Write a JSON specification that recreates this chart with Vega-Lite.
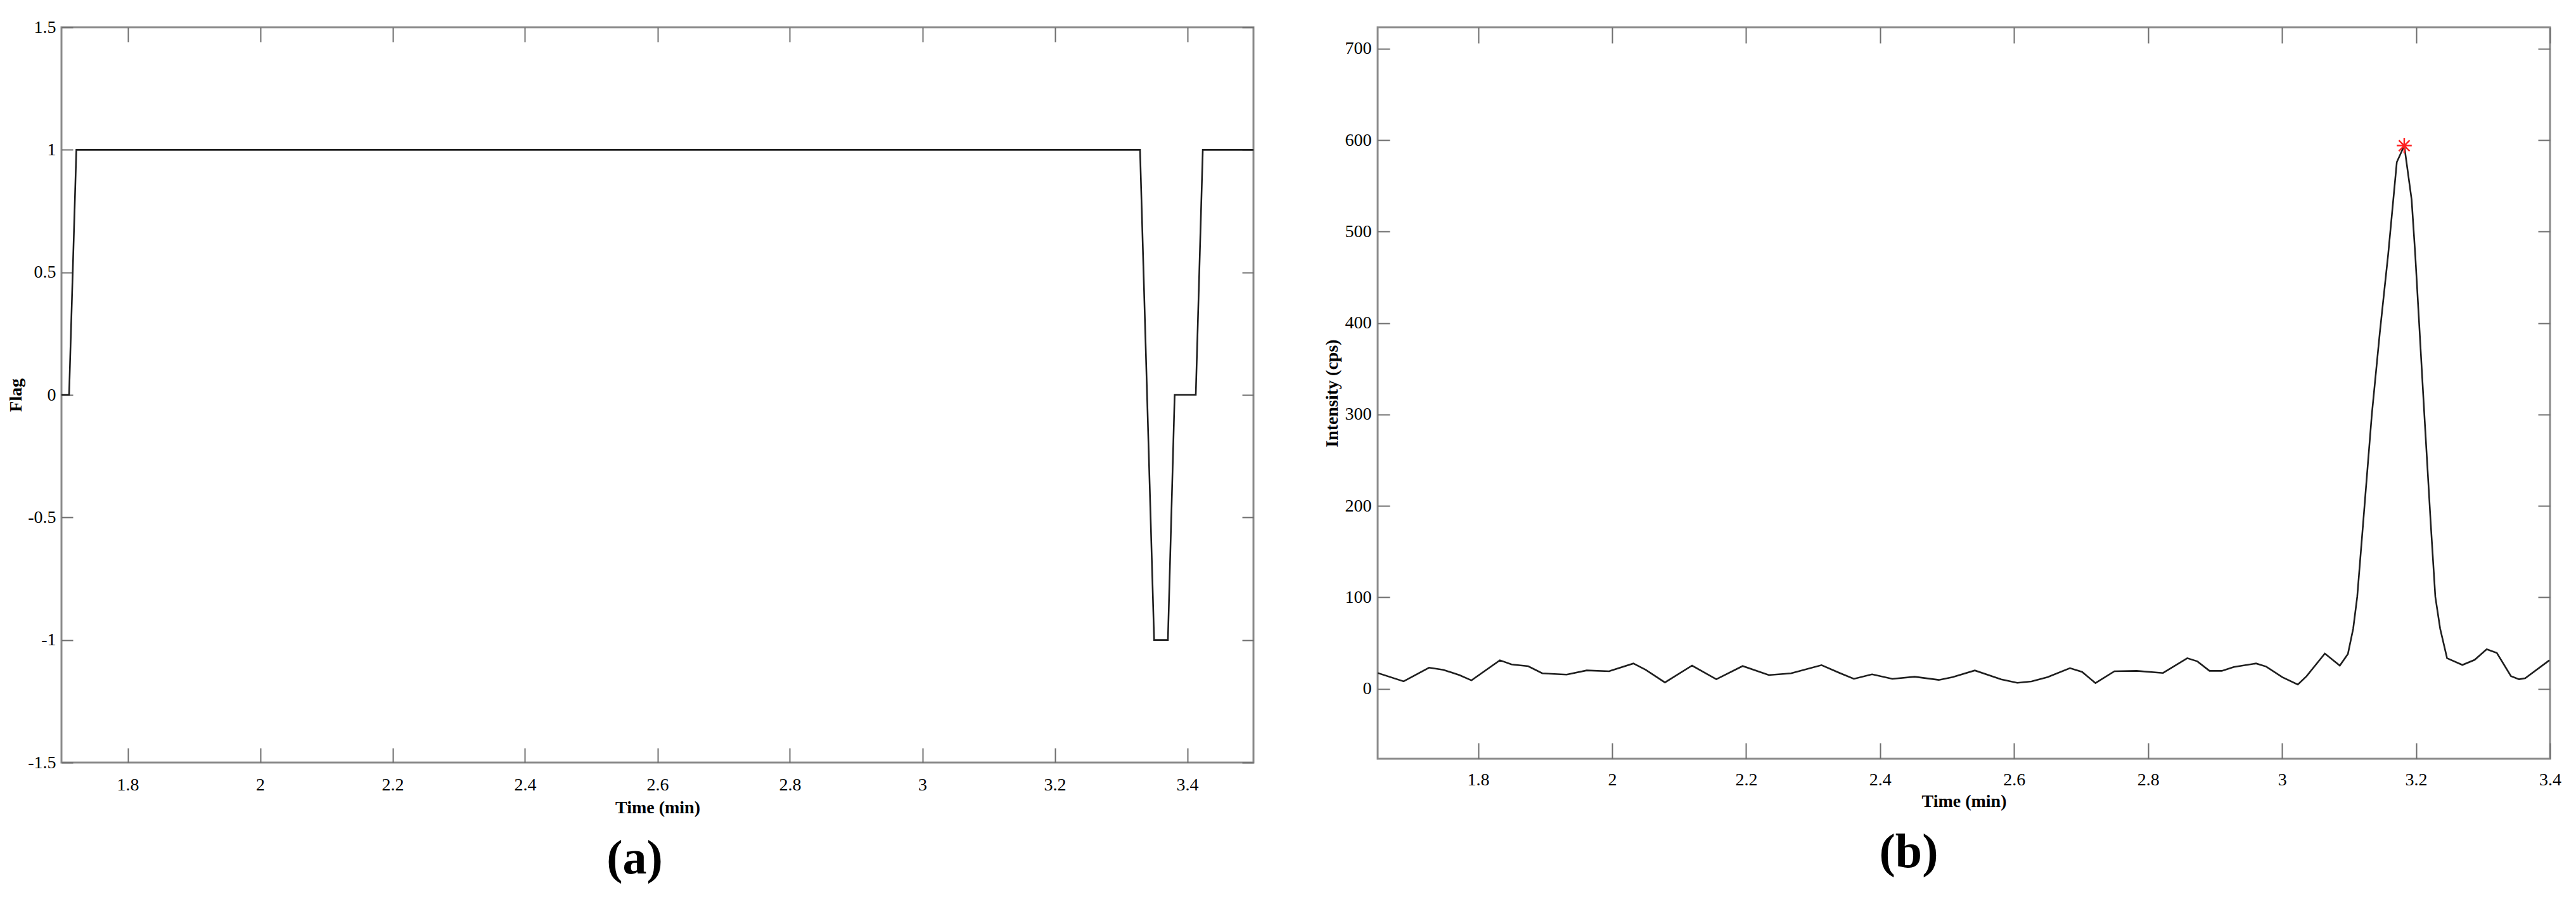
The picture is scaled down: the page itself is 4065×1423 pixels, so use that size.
{
  "$schema": "https://vega.github.io/schema/vega-lite/v6.json",
  "background": "white",
  "padding": {"left": 10, "top": 27, "right": 10, "bottom": 10},
  "spacing": 196,
  "bounds": "flush",
  "config": {
    "view": {"stroke": "#8a8a8a", "strokeWidth": 3},
    "axis": {
      "domain": false,
      "grid": false,
      "tickColor": "#6e6e6e",
      "tickWidth": 2,
      "labelFont": "Liberation Serif",
      "labelFontSize": 28,
      "labelColor": "#000000",
      "labelFlush": false,
      "labelOverlap": false,
      "titleFont": "Liberation Serif",
      "titleFontSize": 28,
      "titleFontWeight": "bold",
      "titleColor": "#000000"
    }
  },
  "datasets": {
    "flag": [
      {"t": 1.7, "flag": 0},
      {"t": 1.7115, "flag": 0},
      {"t": 1.7225, "flag": 1},
      {"t": 3.3287, "flag": 1},
      {"t": 3.35, "flag": -1},
      {"t": 3.3708, "flag": -1},
      {"t": 3.381, "flag": 0},
      {"t": 3.4129, "flag": 0},
      {"t": 3.4235, "flag": 1},
      {"t": 3.5, "flag": 1}
    ],
    "intensity": [
      {"t": 1.65, "i": 17.3},
      {"t": 1.6887, "i": 8.1},
      {"t": 1.7267, "i": 23.1},
      {"t": 1.748, "i": 20.8},
      {"t": 1.772, "i": 15.0},
      {"t": 1.79, "i": 9.2},
      {"t": 1.8324, "i": 31.2},
      {"t": 1.85, "i": 26.6},
      {"t": 1.8747, "i": 24.7},
      {"t": 1.8958, "i": 16.9},
      {"t": 1.932, "i": 15.5},
      {"t": 1.962, "i": 20.1},
      {"t": 1.9955, "i": 19.2},
      {"t": 2.0317, "i": 27.7},
      {"t": 2.05, "i": 20.8},
      {"t": 2.0788, "i": 6.9},
      {"t": 2.1193, "i": 25.4},
      {"t": 2.1555, "i": 10.4},
      {"t": 2.1948, "i": 24.9},
      {"t": 2.234, "i": 15.0},
      {"t": 2.267, "i": 16.9},
      {"t": 2.3126, "i": 25.9},
      {"t": 2.3397, "i": 17.3},
      {"t": 2.3609, "i": 10.9},
      {"t": 2.388, "i": 15.9},
      {"t": 2.4183, "i": 10.9},
      {"t": 2.4515, "i": 13.2},
      {"t": 2.4877, "i": 9.7},
      {"t": 2.5082, "i": 12.7},
      {"t": 2.5414, "i": 20.1},
      {"t": 2.5807, "i": 10.4},
      {"t": 2.6048, "i": 6.5},
      {"t": 2.626, "i": 8.1},
      {"t": 2.65, "i": 12.7},
      {"t": 2.6834, "i": 22.6},
      {"t": 2.7015, "i": 18.5},
      {"t": 2.7215, "i": 6.2},
      {"t": 2.7498, "i": 19.2},
      {"t": 2.783, "i": 19.6},
      {"t": 2.8223, "i": 17.3},
      {"t": 2.8585, "i": 33.5},
      {"t": 2.8736, "i": 30.0},
      {"t": 2.8917, "i": 19.6},
      {"t": 2.91, "i": 19.6},
      {"t": 2.928, "i": 23.8},
      {"t": 2.9612, "i": 27.7},
      {"t": 2.9763, "i": 24.3},
      {"t": 3.0005, "i": 12.7},
      {"t": 3.0235, "i": 4.6},
      {"t": 3.0367, "i": 13.9},
      {"t": 3.0639, "i": 38.6},
      {"t": 3.0862, "i": 25.4},
      {"t": 3.0983, "i": 38.1},
      {"t": 3.1062, "i": 65.8},
      {"t": 3.1122, "i": 100.5},
      {"t": 3.122, "i": 190},
      {"t": 3.134, "i": 300},
      {"t": 3.146, "i": 390},
      {"t": 3.1584, "i": 475},
      {"t": 3.1713, "i": 576},
      {"t": 3.1824, "i": 594},
      {"t": 3.1934, "i": 535},
      {"t": 3.1988, "i": 475},
      {"t": 3.212, "i": 305},
      {"t": 3.222, "i": 180},
      {"t": 3.2288, "i": 100.5},
      {"t": 3.236, "i": 65.8},
      {"t": 3.2463, "i": 33.5},
      {"t": 3.2692, "i": 26.1},
      {"t": 3.2874, "i": 31.6},
      {"t": 3.3055, "i": 43.2},
      {"t": 3.3206, "i": 39.3},
      {"t": 3.3417, "i": 13.9},
      {"t": 3.3538, "i": 10.4},
      {"t": 3.3629, "i": 11.5},
      {"t": 3.3991, "i": 31.2}
    ],
    "peak": [
      {"t": 3.1824, "i": 594}
    ]
  },
  "hconcat": [
    {
      "width": 1881,
      "height": 1160,
      "title": {"text": "(a)", "orient": "bottom", "anchor": "middle", "frame": "group", "font": "Liberation Serif", "fontSize": 76, "fontWeight": "bold", "color": "#000000", "dx": -36, "offset": 30},
      "data": {"name": "flag"},
      "layer": [
        {
          "mark": {"type": "line", "color": "#1e1e1e", "strokeWidth": 2.6, "clip": true},
          "encoding": {
            "x": {"field": "t", "type": "quantitative", "scale": {"domain": [1.7, 3.5], "nice": false, "zero": false},
                  "axis": {"title": "Time (min)", "values": [1.8, 2, 2.2, 2.4, 2.6, 2.8, 3, 3.2, 3.4], "tickSize": -23, "labelPadding": 44, "labelExpr": "'' + datum.value", "titlePadding": 8}},
            "y": {"field": "flag", "type": "quantitative", "scale": {"domain": [-1.5, 1.5], "nice": false, "zero": false},
                  "axis": {"title": "Flag", "values": [-1.5, -1, -0.5, 0, 0.5, 1, 1.5], "tickSize": -18, "labelPadding": 27, "labelExpr": "'' + datum.value", "titlePadding": 4}}
          }
        },
        {
          "mark": {"type": "point", "opacity": 0},
          "encoding": {
            "x": {"field": "t", "type": "quantitative", "axis": {"orient": "top", "values": [1.8, 2, 2.2, 2.4, 2.6, 2.8, 3, 3.2, 3.4], "tickSize": -23, "labels": false, "title": null}},
            "y": {"field": "flag", "type": "quantitative", "axis": {"orient": "right", "values": [-1.5, -1, -0.5, 0, 0.5, 1, 1.5], "tickSize": -18, "labels": false, "title": null}}
          }
        }
      ],
      "resolve": {"axis": {"x": "independent", "y": "independent"}}
    },
    {
      "width": 1850,
      "height": 1154,
      "title": {"text": "(b)", "orient": "bottom", "anchor": "middle", "frame": "group", "font": "Liberation Serif", "fontSize": 76, "fontWeight": "bold", "color": "#000000", "dx": -87, "offset": 30},
      "layer": [
        {
          "data": {"name": "intensity"},
          "mark": {"type": "line", "color": "#1e1e1e", "strokeWidth": 2.6, "clip": true},
          "encoding": {
            "x": {"field": "t", "type": "quantitative", "scale": {"domain": [1.65, 3.4], "nice": false, "zero": false},
                  "axis": {"title": "Time (min)", "values": [1.8, 2, 2.2, 2.4, 2.6, 2.8, 3, 3.2, 3.4], "tickSize": -25, "labelPadding": 44, "labelExpr": "'' + datum.value", "titlePadding": 6}},
            "y": {"field": "i", "type": "quantitative", "scale": {"domain": [-76.5, 723.5], "nice": false, "zero": false},
                  "axis": {"title": "Intensity (cps)", "values": [0, 100, 200, 300, 400, 500, 600, 700], "tickSize": -19, "labelPadding": 29, "labelExpr": "'' + datum.value", "titlePadding": 6}}
          }
        },
        {
          "data": {"name": "intensity"},
          "mark": {"type": "point", "opacity": 0},
          "encoding": {
            "x": {"field": "t", "type": "quantitative", "axis": {"orient": "top", "values": [1.8, 2, 2.2, 2.4, 2.6, 2.8, 3, 3.2, 3.4], "tickSize": -25, "labels": false, "title": null}},
            "y": {"field": "i", "type": "quantitative", "axis": {"orient": "right", "values": [0, 100, 200, 300, 400, 500, 600, 700], "tickSize": -19, "labels": false, "title": null}}
          }
        },
        {
          "data": {"name": "peak"},
          "mark": {"type": "point", "shape": "M-1,0L1,0M0,-1L0,1M-0.72,-0.72L0.72,0.72M-0.72,0.72L0.72,-0.72", "filled": false, "stroke": "#ff2020", "strokeWidth": 2.5, "size": 560, "opacity": 1},
          "encoding": {
            "x": {"field": "t", "type": "quantitative", "axis": null},
            "y": {"field": "i", "type": "quantitative", "axis": null}
          }
        }
      ],
      "resolve": {"axis": {"x": "independent", "y": "independent"}}
    }
  ]
}
